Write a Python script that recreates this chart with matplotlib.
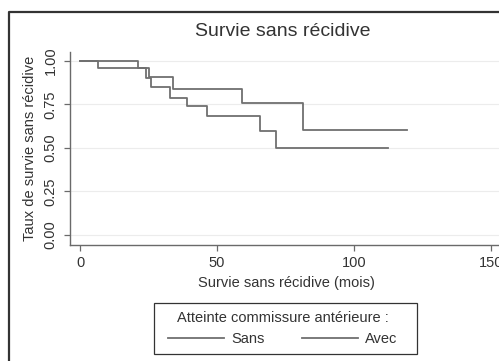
import matplotlib
matplotlib.use("Agg")
import matplotlib.pyplot as plt
from matplotlib.lines import Line2D
from matplotlib.patches import Rectangle

plt.rcParams['font.family'] = ['Liberation Sans', 'DejaVu Sans']

# Kaplan-Meier steps (time in months, survival)
sans_t = [0, 21.3, 25.2, 33.8, 59.3, 81.5, 119.2]
sans_s = [1.0, 0.958, 0.906, 0.839, 0.757, 0.603, 0.603]
avec_t = [0, 6.6, 24.0, 26.0, 32.8, 39.2, 46.2, 65.7, 71.5, 112.5]
avec_s = [1.0, 0.958, 0.90, 0.85, 0.79, 0.741, 0.684, 0.60, 0.50, 0.50]

yticks = [0.0, 0.25, 0.50, 0.75, 1.00]
ytick_labels = ["0.00", "0.25", "0.50", "0.75", "1.00"]
xticks = [0, 50, 100, 150]

W, H = 499, 361
fig = plt.figure(figsize=(W / 100, H / 100), dpi=100)

# axes placed in pixel terms: left 70, right 505, top 52, bottom 245
ax = fig.add_axes([70 / W, 1 - 245 / H, (505 - 70) / W, (245 - 52) / H])
ax.set_xlim(-3.65, 155.1)
ax.set_ylim(-0.0575, 1.0517)

line_col = '#6f6f6f'
ax.step(sans_t, sans_s, where='post', color=line_col, lw=1.3, label='Sans')
ax.step(avec_t, avec_s, where='post', color=line_col, lw=1.3, label='Avec')

ax.set_yticks(yticks)
ax.set_yticklabels(ytick_labels, rotation=90, va='center')
ax.set_xticks(xticks)
ax.grid(axis='y', color='#ececec', lw=0.8)
ax.set_axisbelow(True)

for side in ['top', 'right']:
    ax.spines[side].set_visible(False)
for side in ['left', 'bottom']:
    ax.spines[side].set_color('#6a6a6a')
    ax.spines[side].set_linewidth(1.0)
ax.tick_params(colors='#6a6a6a', labelcolor='#333333', length=4, width=0.9, labelsize=10.5)
ax.tick_params(axis='y', pad=5)
ax.tick_params(axis='x', pad=4)

ax.set_xlabel('Survie sans récidive (mois)', fontsize=10.5, color='#333333')
ax.set_ylabel('Taux de survie sans récidive', fontsize=10.5, color='#333333')
ax.xaxis.set_label_coords((286 - 70) / (505 - 70), -(276 - 245) / (245 - 52))
ax.yaxis.set_label_coords(-(70 - 37) / (505 - 70), 0.5)

fig.text(283 / W, 1 - 32 / H, 'Survie sans récidive', fontsize=14,
         color='#333333', ha='center', va='center')

leg = fig.legend(loc='center', bbox_to_anchor=(283 / W, 1 - 328.5 / H),
                 ncol=2, title='Atteinte commissure antérieure :',
                 fontsize=10.5, title_fontsize=10.5, handlelength=3.8,
                 handletextpad=0.5, columnspacing=2.6, borderpad=0.3,
                 labelspacing=0.45, frameon=False)
for t in leg.get_texts():
    t.set_color('#333333')
leg.get_title().set_color('#333333')

# legend frame
fig.add_artist(Rectangle((154 / W, 1 - 354 / H), (417 - 154) / W, (354 - 303) / H,
                         transform=fig.transFigure, fill=False,
                         edgecolor='#333333', lw=0.9))

# outer graph border (cut off on the right and bottom)
fig.add_artist(Line2D([9 / W, 9 / W, 1.05], [-0.05, 1 - 12 / H, 1 - 12 / H],
                      transform=fig.transFigure, color='#333333', lw=1.6,
                      clip_on=False))

fig.savefig('out.png', dpi=100)
